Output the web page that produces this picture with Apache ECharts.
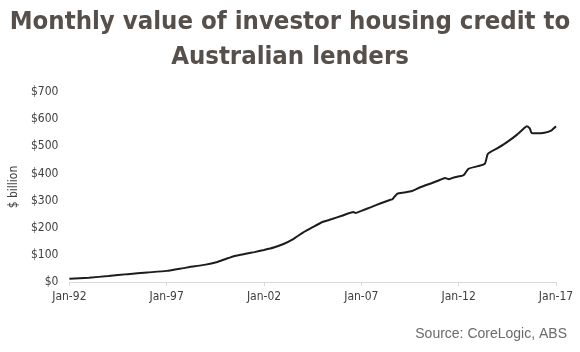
<!DOCTYPE html>
<html>
<head>
<meta charset="utf-8">
<script src="https://cdn.jsdelivr.net/npm/echarts@6/dist/echarts.min.js"></script>
<style>
  html, body { margin: 0; padding: 0; background: #fff; }
  #chart { width: 580px; height: 352px; }
</style>
</head>
<body>
<div id="chart"></div>
<script>
// decimal year of each reading
var years = [
  1992.0, 1993.0, 1994.0, 1995.0, 1996.0, 1997.0, 1998.0, 1999.0, 1999.6, 2000.0,
  2000.5, 2001.0, 2001.5, 2002.0, 2002.5, 2003.0, 2003.5, 2004.0, 2004.5, 2005.0,
  2005.5, 2006.0, 2006.6, 2006.7, 2007.0, 2007.5, 2008.0, 2008.5, 2008.6, 2008.85,
  2009.2, 2009.6, 2010.0, 2010.6, 2011.0, 2011.3, 2011.5, 2011.8, 2012.2, 2012.3,
  2012.5, 2013.0, 2013.35, 2013.5, 2014.0, 2014.5, 2015.0, 2015.4, 2015.5, 2015.65,
  2015.75, 2016.0, 2016.4, 2016.75, 2017.0
]
// $ billion
var credit = [
  12, 16, 22, 29, 35, 41, 53, 64, 74, 84,
  96, 103, 110, 118, 127, 140, 158, 182, 202, 221,
  232, 244, 258, 254, 262, 276, 290, 303, 305, 326,
  330, 335, 348, 364, 375, 383, 379, 386, 392, 397,
  417, 427, 436, 472, 493, 516, 543, 569, 574, 566,
  549, 548, 550, 558, 574
]
var yTicks = [0, 100, 200, 300, 400, 500, 600, 700]
var titleLines = ['Monthly value of investor housing credit to', 'Australian lenders']

var narrow = "'Liberation Sans Narrow', 'DejaVu Sans Condensed', sans-serif"

var points = years.map(function (y, i) { return [y, credit[i]] })

var titleStyle = {
  fontFamily: narrow,
  fontWeight: 'bold',
  fontSize: 25.5,
  color: '#574f4a'
}

var chart = echarts.init(document.getElementById('chart'))
chart.setOption({
  animation: false,
  title: [
    { text: titleLines[0], left: 'center', top: 9, padding: 0, textStyle: titleStyle },
    { text: titleLines[1], left: 'center', top: 44, padding: 0, textStyle: titleStyle },
    {
      text: 'Source: CoreLogic, ABS',
      right: 8,
      top: 322,
      textStyle: {
        fontFamily: 'Liberation Sans, Arial, sans-serif',
        fontWeight: 'normal',
        fontSize: 14,
        color: '#6b6b6b'
      }
    }
  ],
  grid: { left: 64, right: 24, top: 92, bottom: 70 },
  xAxis: {
    type: 'value',
    min: 1992,
    max: 2017,
    interval: 5,
    splitLine: { show: false },
    axisLine: { lineStyle: { color: '#d9d9d9', width: 1 } },
    axisTick: { show: true, length: 4, lineStyle: { color: '#d9d9d9' } },
    axisLabel: {
      margin: 9,
      fontFamily: narrow,
      fontSize: 12,
      color: '#404040',
      formatter: function (v) { return 'Jan-' + String(v).slice(2) }
    }
  },
  yAxis: {
    type: 'value',
    min: yTicks[0],
    max: yTicks[yTicks.length - 1],
    interval: 100,
    name: '$ billion',
    nameLocation: 'middle',
    nameGap: 47,
    nameTextStyle: { fontFamily: narrow, fontSize: 12, color: '#404040' },
    splitLine: { show: false },
    axisLine: { show: false },
    axisTick: { show: false },
    axisLabel: {
      margin: 11,
      fontFamily: narrow,
      fontSize: 12,
      color: '#404040',
      formatter: function (v) { return '$' + v }
    }
  },
  series: [{
    type: 'line',
    data: points,
    showSymbol: false,
    smooth: 0.2,
    lineStyle: { color: '#1c1c1c', width: 2 }
  }]
})
</script>
</body>
</html>
